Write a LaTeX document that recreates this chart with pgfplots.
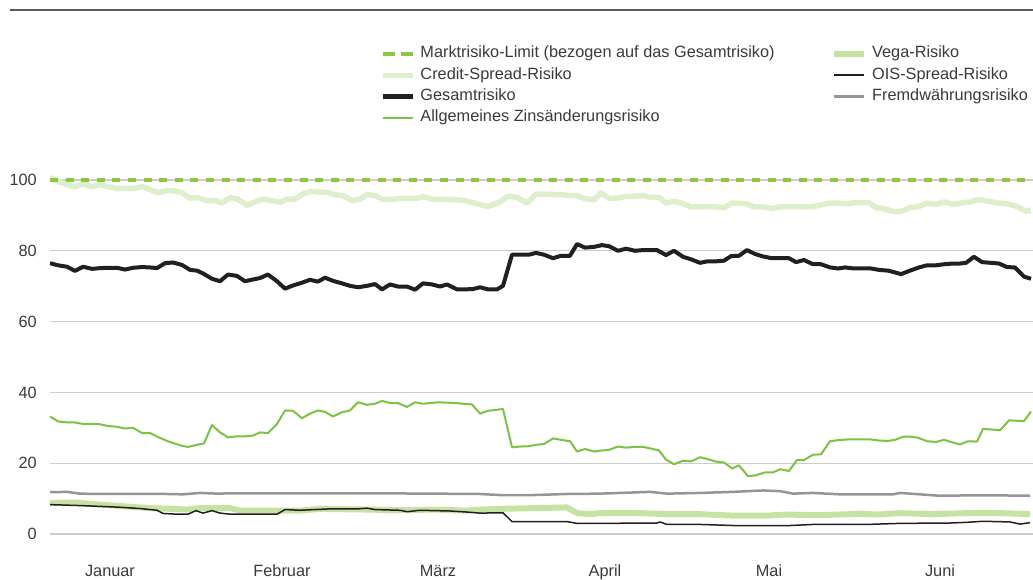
\documentclass[border=0pt]{standalone}
\usepackage{fontspec}
\setmainfont{Liberation Sans}
\usepackage{pgfplots}
\pgfplotsset{compat=1.18}
\definecolor{limitgreen}{HTML}{8DC63F}
\definecolor{creditgreen}{HTML}{DDEFCB}
\definecolor{gesamt}{HTML}{231F20}
\definecolor{allg}{HTML}{7DC242}
\definecolor{vega}{HTML}{C6E3A3}
\definecolor{fremd}{HTML}{939598}
\definecolor{gridc}{HTML}{CDCDCD}
\definecolor{txt}{HTML}{3A3A3A}
\definecolor{rulec}{HTML}{5A5A5A}
\begin{document}
\begin{tikzpicture}[x=1pt,y=1pt]
\path[use as bounding box] (0,0) rectangle (1033,580);
\draw[rulec, line width=1.8pt] (10,570) -- (1033,570);
\begin{axis}[
  at={(50pt,28.3pt)}, anchor=south west,
  scale only axis, width=983pt, height=389.4pt,
  xmin=50, xmax=1033, ymin=-5, ymax=105,
  axis line style={draw=none}, tick style={draw=none},
  ytick={0,20,40,60,80,100}, ymajorgrids,
  grid style={gridc, line width=1.3pt},
  xtick={110,282,438,605,769,940},
  xticklabels={Januar,Februar,März,April,Mai,Juni},
  yticklabel style={anchor=east, inner sep=0pt, xshift=-13pt},
  xticklabel style={anchor=base, inner sep=0pt, yshift=-25pt},
  ticklabel style={font=\fontsize{16.3}{19}\selectfont, text=txt},
  /pgf/number format/assume math mode=true,
  every axis plot/.append style={line join=round},
  legend columns=2,
  legend cell align=left,
  legend image code/.code={\draw[#1] (0pt,0pt) -- (30pt,0pt);},
  legend style={
    at={(axis description cs:0.3357,1.2974)}, anchor=north west,
    draw=none, fill=none, inner sep=0pt, outer sep=0pt,
    font=\fontsize{16.3}{19}\selectfont, text=txt,
    nodes={inner sep=0pt, text height=11.5pt, text depth=3.5pt},
    row sep=6.3pt,
    /tikz/every odd column/.append style={column sep=5pt},
    /tikz/every even column/.append style={column sep=57pt},
  },
]
\addlegendimage{limitgreen, line width=4pt, dash pattern=on 12pt off 6pt}
\addlegendentry{Marktrisiko-Limit (bezogen auf das Gesamtrisiko)}
\addlegendimage{vega, line width=5.5pt}
\addlegendentry{Vega-Risiko}
\addlegendimage{creditgreen, line width=5.5pt}
\addlegendentry{Credit-Spread-Risiko}
\addlegendimage{gesamt, line width=2pt}
\addlegendentry{OIS-Spread-Risiko}
\addlegendimage{gesamt, line width=4.5pt}
\addlegendentry{Gesamtrisiko}
\addlegendimage{fremd, line width=2.5pt}
\addlegendentry{Fremdwährungsrisiko}
\addlegendimage{allg, line width=2pt}
\addlegendentry{Allgemeines Zinsänderungsrisiko}

% Vega-Risiko
\addplot[vega, line width=6pt, forget plot] coordinates {
(50,8.8) (75,8.9) (100,8.3) (125,7.8) (150,7.3) (173,7.1) (187,6.9) (200,7.3) (230,7.3) (240,6.6) (267,6.6) (290,6.6)
(300,6.6) (320,7.1) (367,6.9) (400,6.7) (433,6.9) (467,6.6) (480,6.9) (500,7.1) (533,7.3) (567,7.5) (577,5.9) (590,5.6) (600,5.9)
(640,5.9) (667,5.6) (700,5.6) (733,5.2) (767,5.2) (787,5.5) (817,5.3) (860,5.7) (877,5.5) (900,5.9) (933,5.6) (967,5.9) (1000,5.9) (1030,5.6)};

% OIS-Spread-Risiko
\addplot[gesamt, line width=1.5pt, forget plot] coordinates {
(50,8.3) (83,8.0) (117,7.6) (140,7.2) (157,6.7) (163,5.8) (177,5.6) (188,5.6) (196,6.6) (203,5.9) (212,6.6) (220,5.9) (230,5.6) (277,5.6) (285,6.9) (300,6.7)
(330,7.1) (358,7.1) (367,7.3) (375,6.9) (400,6.7) (407,6.3) (420,6.7) (450,6.5) (467,6.2) (480,5.9) (503,6.0) (512,3.5) (567,3.5) (577,3.0) (600,3.0)
(657,3.1) (660,3.4) (667,2.7) (700,2.7) (733,2.4) (787,2.35) (813,2.7) (867,2.7) (900,3.0) (950,3.1) (967,3.3) (983,3.6) (1010,3.4) (1020,2.8) (1030,3.2)};

% Fremdwaehrungsrisiko
\addplot[fremd, line width=2.5pt, forget plot] coordinates {
(50,11.8) (67,11.9) (80,11.4) (100,11.3) (167,11.3) (183,11.2) (200,11.6) (217,11.4) (233,11.5) (300,11.5)
(367,11.5) (433,11.4) (480,11.3) (500,11.0) (533,11.0) (567,11.3) (600,11.4)
(650,11.9) (667,11.4) (700,11.6) (733,11.9) (763,12.3) (780,12.1) (793,11.4) (813,11.6) (840,11.2) (893,11.2) (900,11.6) (920,11.2) (940,10.8) (967,10.9) (1000,10.9) (1030,10.8)};

% Allgemeines Zinsaenderungsrisiko
\addplot[allg, line width=2pt, forget plot] coordinates {
(50,33.2) (58,31.8) (67,31.5) (75,31.5) (83,31.1) (92,31.1) (100,31.0) (108,30.5) (117,30.3) (125,29.8) (133,30.0) (142,28.5) (150,28.5) (158,27.4) (167,26.3) (173,25.7) (182,24.9) (188,24.6) (197,25.2) (204,25.6) (212,30.8) (220,28.7) (228,27.3) (237,27.6) (245,27.6) (253,27.8) (260,28.7) (268,28.5) (277,31.1) (285,34.9) (293,34.8) (302,32.7) (310,34.0) (318,34.9) (325,34.5) (333,33.2) (342,34.4) (350,34.9) (358,37.2) (367,36.5) (375,36.8) (382,37.6) (390,37.0) (398,37.0) (407,35.9) (415,37.2) (423,36.8) (430,37.0) (438,37.2) (447,37.1) (455,37.0) (463,36.8) (472,36.6) (480,34.0) (488,34.8) (497,35.1) (503,35.3)
(512,24.5) (520,24.7) (529,24.8) (536,25.2) (544,25.4) (553,27.0) (561,26.6) (570,26.2) (577,23.3) (585,24.0) (594,23.3) (602,23.6) (609,23.8) (618,24.7) (626,24.4) (635,24.6) (643,24.6) (650,24.2) (659,23.6) (666,21.0) (674,19.7) (683,20.7) (691,20.5) (700,21.7) (707,21.2) (715,20.5) (724,20.2) (732,18.5) (739,19.4) (748,16.3) (756,16.6) (765,17.4) (773,17.4) (780,18.3) (789,17.8) (797,20.9) (804,20.9) (813,22.4) (821,22.5) (830,26.2) (838,26.5) (847,26.7) (854,26.7) (862,26.7) (871,26.7) (879,26.4) (888,26.3) (895,26.6) (903,27.5) (910,27.5) (918,27.2) (927,26.2) (936,26.0) (944,26.6) (951,26.0) (960,25.3) (968,26.2) (977,26.1) (983,29.7) (992,29.5) (1000,29.3) (1009,32.1) (1016,32.0) (1024,31.9) (1031,34.6)};

% Credit-Spread-Risiko
\addplot[creditgreen, line width=5.5pt, forget plot] coordinates {
(50,100.7) (58,99.6) (67,98.7) (75,98.1) (83,98.9) (92,98.1) (100,98.7) (108,98.1) (117,97.6) (125,97.6) (133,97.6) (142,98.1) (150,97.3) (158,96.4) (167,97.0) (173,97.0) (182,96.4) (190,94.9) (198,95.0) (207,94.2) (215,94.2) (222,93.5) (230,95.0) (238,94.6) (247,92.8) (255,93.8) (263,94.6) (272,94.2) (280,93.7) (287,94.6) (295,94.6) (303,96.1) (312,96.8) (320,96.6) (328,96.5) (335,95.8) (343,95.6) (352,94.2) (360,94.6) (367,95.9) (375,95.6) (383,94.5) (392,94.5) (400,94.8) (408,94.8) (417,94.8) (423,95.3) (432,94.6) (440,94.5) (448,94.5) (457,94.4) (465,94.2) (473,93.6) (482,92.9) (488,92.5)
(500,93.8) (508,95.4) (517,95.1) (527,93.5) (536,96.0) (544,96.0) (553,95.9) (561,95.9) (570,95.6) (577,95.6) (585,94.7) (594,94.4) (601,96.3) (609,94.8) (618,94.9) (626,95.4) (635,95.4) (643,95.6) (650,95.1) (659,95.1) (666,93.5) (674,94.0) (683,93.3) (691,92.4) (700,92.4) (708,92.5) (715,92.4) (724,92.2) (732,93.5) (739,93.4) (746,93.3) (754,92.4) (763,92.4) (772,91.9) (780,92.4) (789,92.5) (797,92.5) (806,92.4) (814,92.5) (823,93.1) (830,93.5) (838,93.5) (847,93.3) (855,93.6) (862,93.6) (869,93.6) (876,92.2) (884,91.9) (893,91.1) (901,91.1) (910,92.2) (918,92.4) (927,93.5) (936,93.1) (944,93.8) (953,93.1) (961,93.5) (970,93.8) (977,94.4) (983,94.3) (992,93.8) (999,93.5) (1007,93.3) (1016,92.6) (1026,91.2) (1031,91.4)};

% Marktrisiko-Limit
\addplot[limitgreen, line width=4pt, dash pattern=on 8pt off 7.6pt, forget plot] coordinates {(50,100) (1033,100)};

% Gesamtrisiko
\addplot[gesamt, line width=4pt, forget plot] coordinates {
(50,76.5) (58,75.9) (67,75.5) (75,74.3) (83,75.5) (92,74.9) (100,75.1) (108,75.2) (117,75.2) (125,74.7) (133,75.2) (142,75.4) (150,75.3) (157,75.1) (165,76.5) (173,76.7) (182,76.0) (190,74.6) (197,74.4) (203,73.6) (212,72.1) (220,71.4) (228,73.3) (237,72.9) (245,71.4) (253,71.9) (260,72.3) (268,73.3) (277,71.4) (285,69.3) (293,70.2) (302,71.0) (310,71.8) (318,71.3) (325,72.4) (333,71.5) (342,70.8) (350,70.1) (358,69.7) (367,70.1) (375,70.6) (382,69.1) (390,70.5) (398,69.9) (407,69.9) (415,69.0) (423,70.8) (432,70.5) (440,69.9) (447,70.5) (457,69.1) (465,69.1) (473,69.2) (480,69.7) (488,69.1) (497,69.1) (503,70.1) (512,78.9)
(520,78.9) (529,78.9) (536,79.4) (544,78.9) (553,77.9) (561,78.6) (570,78.6) (577,81.9) (585,80.9) (594,81.1) (602,81.6) (609,81.3) (618,80.0) (626,80.6) (635,80.0) (643,80.2) (650,80.2) (657,80.2) (666,78.8) (674,80.0) (683,78.3) (691,77.6) (700,76.6) (707,77.0) (715,77.0) (724,77.2) (731,78.5) (739,78.6) (747,80.2) (755,79.1) (763,78.4) (772,77.9) (780,77.9) (789,77.9) (796,76.8) (804,77.4) (813,76.2) (821,76.2) (830,75.3) (838,75.0) (845,75.3) (854,75.0) (862,75.0) (871,75.0) (879,74.6) (888,74.4) (895,73.9) (901,73.4) (910,74.4) (919,75.3) (927,75.9) (936,75.9) (944,76.2) (953,76.4) (960,76.4) (966,76.6) (974,78.3) (982,76.8) (991,76.6) (999,76.4) (1007,75.4) (1015,75.3) (1024,72.7) (1031,72.1)};
\end{axis}
\end{tikzpicture}
\end{document}
